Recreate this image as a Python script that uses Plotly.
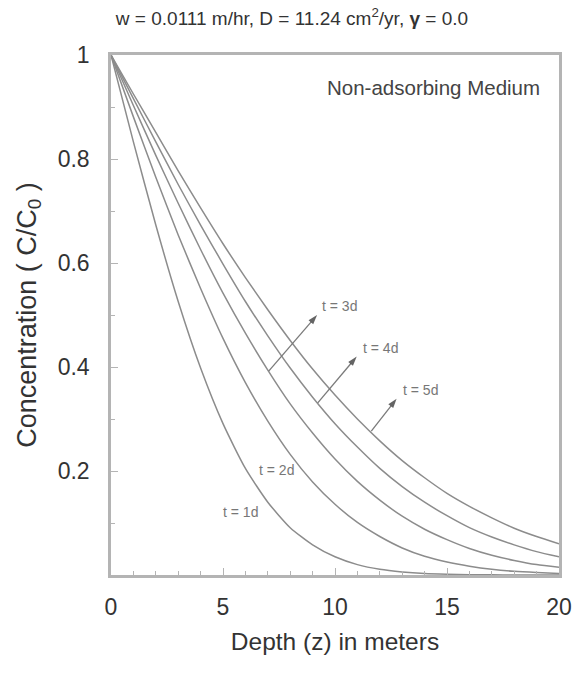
import plotly.graph_objects as go

# Depth (m)
depth = list(range(0, 21))

# Concentration C/C0 for each time
c_t1 = [1.0, 0.833, 0.673, 0.526, 0.398, 0.291, 0.205, 0.140, 0.091, 0.058, 0.035,
        0.020, 0.011, 0.006, 0.003, 0.0016, 0.0007, 0.0003, 0.0001, 0.0, 0.0]
c_t2 = [1.0, 0.881, 0.765, 0.654, 0.551, 0.455, 0.370, 0.296, 0.232, 0.179, 0.136,
        0.101, 0.074, 0.052, 0.036, 0.025, 0.017, 0.011, 0.007, 0.0046, 0.0028]
c_t3 = [1.0, 0.903, 0.807, 0.715, 0.626, 0.542, 0.465, 0.394, 0.329, 0.273, 0.223,
        0.180, 0.144, 0.113, 0.088, 0.068, 0.051, 0.038, 0.028, 0.020, 0.015]
c_t4 = [1.0, 0.916, 0.833, 0.751, 0.673, 0.598, 0.526, 0.460, 0.398, 0.342, 0.291,
        0.246, 0.205, 0.170, 0.140, 0.114, 0.091, 0.073, 0.058, 0.045, 0.035]
c_t5 = [1.0, 0.925, 0.851, 0.777, 0.706, 0.637, 0.572, 0.510, 0.451, 0.396, 0.346,
        0.300, 0.258, 0.220, 0.187, 0.157, 0.132, 0.110, 0.090, 0.074, 0.060]

series = [("t = 1d", c_t1), ("t = 2d", c_t2), ("t = 3d", c_t3),
          ("t = 4d", c_t4), ("t = 5d", c_t5)]

x_ticks = [0, 5, 10, 15, 20]
y_ticks = [0.2, 0.4, 0.6, 0.8, 1.0]
y_ticktext = ["0.2", "0.4", "0.6", "0.8", "1"]

# label positions (depth, conc)
labels = {
    "t = 1d": (5.80, 0.122),
    "t = 2d": (7.41, 0.202),
    "t = 3d": (10.22, 0.517),
    "t = 4d": (12.01, 0.437),
    "t = 5d": (13.82, 0.356),
}
# arrows: (tail depth, tail conc, head depth, head conc)
arrows = {
    "t = 3d": (7.04, 0.392, 9.20, 0.500),
    "t = 4d": (9.23, 0.331, 10.97, 0.420),
    "t = 5d": (11.62, 0.2765, 12.75, 0.339),
}

FONT = "Liberation Sans, Arial, Helvetica, sans-serif"
LINE = "#8c8c8c"
FRAME = "#b4b4b4"
TXT = "#333333"

fig = go.Figure()
for name, vals in series:
    fig.add_trace(go.Scatter(x=depth, y=vals, mode="lines", name=name,
                             line=dict(color=LINE, width=1.5, shape="spline", smoothing=0.6),
                             showlegend=False, hoverinfo="skip"))

for name, (tx, ty, hx, hy) in arrows.items():
    fig.add_trace(go.Scatter(x=[tx, hx], y=[ty, hy], mode="lines+markers",
                             line=dict(color="#7a7a7a", width=1.3),
                             marker=dict(symbol="arrow", angleref="previous",
                                         size=[0, 10], color="#222222",
                                         line=dict(width=0)),
                             showlegend=False, hoverinfo="skip"))

for name, (lx, ly) in labels.items():
    fig.add_annotation(x=lx, y=ly, text=name, showarrow=False,
                       font=dict(family=FONT, size=14, color="#777777"))

fig.add_annotation(x=19.26, y=0.9375, text="Non-adsorbing Medium", showarrow=False,
                   xanchor="right", yanchor="middle",
                   font=dict(family=FONT, size=20.5, color="#444444"))

fig.update_layout(
    width=584, height=675,
    margin=dict(l=111, r=25, t=55, b=100),
    paper_bgcolor="white", plot_bgcolor="white",
    title=dict(text="w = 0.0111 m/hr, D = 11.24 cm<sup>2</sup>/yr, <b>γ</b> = 0.0",
               x=0.5, xanchor="center", y=0.973, yanchor="middle",
               font=dict(family=FONT, size=19, color=TXT)),
    font=dict(family=FONT, color=TXT),
)

fig.update_xaxes(range=[0, 20], tickvals=x_ticks, showgrid=False, zeroline=False,
                 showline=True, linecolor=FRAME, linewidth=2.5, mirror=True,
                 ticks="inside", ticklen=7, tickcolor=FRAME, tickwidth=1.2,
                 minor=dict(ticks="inside", ticklen=4, dtick=1, tickcolor=FRAME, tickwidth=1.2),
                 tickfont=dict(family=FONT, size=23, color=TXT),
                 ticklabelstandoff=10,
                 title=dict(text="Depth (z) in meters", standoff=14,
                            font=dict(family=FONT, size=24.5, color=TXT)))

fig.update_yaxes(range=[0, 1], tickvals=y_ticks, ticktext=y_ticktext, showgrid=False,
                 zeroline=False, showline=True, linecolor=FRAME, linewidth=2.5, mirror=True,
                 ticks="inside", ticklen=7, tickcolor=FRAME, tickwidth=1.2,
                 minor=dict(ticks="inside", ticklen=4, dtick=0.1, tickcolor=FRAME, tickwidth=1.2),
                 tickfont=dict(family=FONT, size=23, color=TXT),
                 ticklabelstandoff=14,
                 title=dict(text="Concentration ( C/C<sub>0</sub> )", standoff=14,
                            font=dict(family=FONT, size=27, color=TXT)))

fig.write_html("out.html", config={"displayModeBar": False},
               post_script="document.body.style.margin='0px';")
